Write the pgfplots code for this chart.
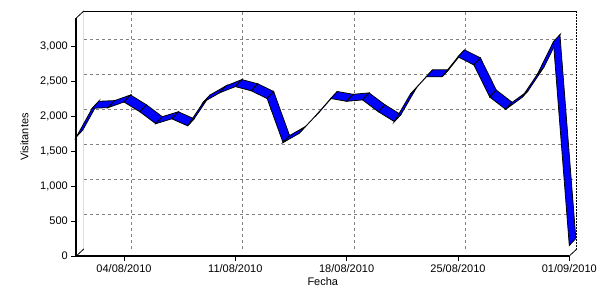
\documentclass[border=0pt]{standalone}
\usepackage{fontspec}
\setmainfont{Liberation Sans}
\usepackage{pgfplots}
\usepackage{pgfplotstable}
\pgfplotsset{compat=1.18}
\pgfplotstableread{
d v
0 1700
1 2110
2 2120
3 2200
4 2060
5 1890
6 1960
7 1860
8 2200
9 2330
10 2420
11 2360
12 2250
13 1620
14 1750
15 1990
16 2250
17 2210
18 2230
19 2060
20 1920
21 2310
22 2560
23 2560
24 2845
25 2730
26 2270
27 2095
28 2260
29 2600
30 3060
31 150
}\visits
\pgfplotstablevertcat{\ribbon}{\visits}
\pgfplotstablevertcat{\ribbon}{\visits}
\pgfplotsset{
  commonaxis/.style={scale only axis, width=493pt, height=238pt,
    xmin=0, xmax=31, ymin=0, ymax=3400, anchor=south west,
    xtick={3,10,17,24,31}, ytick={0,500,...,3000},
    tick label style={font=\fontsize{11}{13}\selectfont},
    label style={font=\fontsize{11}{13}\selectfont}},
}
\begin{document}
\begin{tikzpicture}
\useasboundingbox (0,0) rectangle (600pt,300pt);
% back wall
\begin{axis}[commonaxis, at={(83.8pt,51pt)},
  axis line style={draw=none}, tick style={draw=none},
  xticklabels={}, yticklabels={},
  ytick={500,1000,...,3000}, xtick={3,10,17,24},
  grid=major, major grid style={gray, line width=0.8pt, dash pattern=on 3pt off 3pt}]
\draw[black, line width=0.8pt] (rel axis cs:0,0) -- (rel axis cs:0,1) -- (rel axis cs:1,1);
\draw[black, line width=0.8pt, dash pattern=on 2pt off 1pt] (rel axis cs:0,0) -- (rel axis cs:1,0) -- (rel axis cs:1,1);
\end{axis}
% front
\begin{axis}[commonaxis, at={(76.3pt,44pt)}, clip=false,
  axis x line*=bottom, axis y line*=left,
  axis line style={line width=2pt, black},
  tick align=outside, major tick length=5pt,
  tick style={black, line width=0.8pt},
  xticklabels={04/08/2010,11/08/2010,18/08/2010,25/08/2010,01/09/2010},
  xlabel={Fecha}, ylabel={Visitantes},
  xlabel style={at={(axis description cs:0.5,-0.126)}, anchor=base},
  ylabel style={at={(axis description cs:-0.105,0.5)}, anchor=center, rotate=0},
  /pgf/number format/.cd, 1000 sep={,}, assume math mode=true]
\draw[black, line width=0.8pt] (rel axis cs:0,1) -- ++(7.5pt,7pt);
\draw[black, line width=0.8pt] (rel axis cs:0,0) -- ++(7.5pt,7pt);
\draw[black, line width=0.8pt] (rel axis cs:1,0) -- ++(7.5pt,7pt);
\addplot[surf, shader=faceted, faceted color=black, line width=0.8pt, mesh/rows=2,
  colormap={solidblue}{rgb255(0cm)=(0,0,255); rgb255(1cm)=(0,0,255)},
  point meta=\thisrow{v}]
  table[x expr={\coordindex<32 ? \thisrow{d} : \thisrow{d}+0.41},
        y expr={\coordindex<32 ? \thisrow{v} : \thisrow{v}+100}] {\ribbon};
\end{axis}
\end{tikzpicture}
\end{document}
